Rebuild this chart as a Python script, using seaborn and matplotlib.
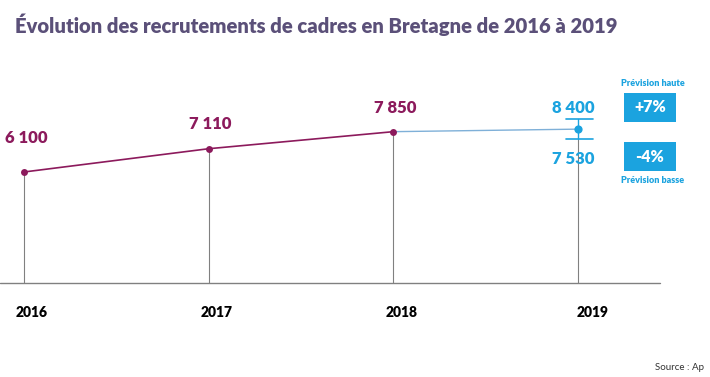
import pandas as pd
import matplotlib.pyplot as plt
import seaborn as sns
from matplotlib.patches import Rectangle

# données
annees = [2016, 2017, 2018]
recrutements = [6100, 7110, 7850]
labels_valeurs = ['6 100', '7 110', '7 850']
annee_prev = 2019
prev_centre = 7960
prev_haute = 8400
prev_basse = 7530
labels_prev = ['8 400', '7 530']
ecarts = ['+7%', '-4%']
titre = 'Évolution des recrutements de cadres en Bretagne de 2016 à 2019'

BORDEAUX = '#8c1a5c'
BLEU = '#1ba3df'
BLEU_LIGNE = '#7fb0d8'
GRIS = '#808080'
POIDS = 'heavy'

sns.set_theme(style='white')
plt.rcParams['font.family'] = ['Lato', 'DejaVu Sans']

fig = plt.figure(figsize=(7.1, 3.77), dpi=100)
ax = fig.add_axes([0, 0, 1, 1])
ax.set_xlim(2015.870, 2019.715)
ax.set_ylim(-2798, 13565)
ax.axis('off')

base = 1282

# ligne de base
ax.plot([2015.870, 2019.445], [base, base], color=GRIS, lw=1)

# traits verticaux
for a, v in zip(annees, recrutements):
    ax.plot([a, a], [base, v], color=GRIS, lw=0.8, zorder=1)
ax.plot([annee_prev, annee_prev], [base, prev_basse], color=GRIS, lw=0.8, zorder=1)

df = pd.DataFrame({'annee': annees, 'valeur': recrutements})
sns.lineplot(data=df, x='annee', y='valeur', ax=ax, color=BORDEAUX, lw=1.2,
             marker='o', markersize=5, markeredgewidth=0, zorder=3)

# prévision 2019
ax.plot([annees[-1], annee_prev], [recrutements[-1], prev_centre], color=BLEU_LIGNE, lw=1, zorder=2)
sns.scatterplot(x=[annee_prev], y=[prev_centre], ax=ax, color=BLEU, s=35, linewidth=0, zorder=4)
ax.plot([annee_prev, annee_prev], [prev_basse, prev_haute], color=BLEU, lw=1, zorder=3)
for v in (prev_haute, prev_basse):
    ax.plot([annee_prev - 0.065, annee_prev + 0.080], [v, v], color=BLEU, lw=1.2, zorder=3)

# étiquettes de valeurs
decal = [34, 25, 24]
for a, v, lab, d in zip(annees, recrutements, labels_valeurs, decal):
    ax.annotate(lab, (a, v), xytext=(2, d), textcoords='offset pixels',
                ha='center', va='center', color=BORDEAUX, fontsize=12, fontweight=POIDS)
ax.annotate(labels_prev[0], (annee_prev, prev_haute), xytext=(-5, 11), textcoords='offset pixels',
            ha='center', va='center', color=BLEU, fontsize=12, fontweight=POIDS)
ax.annotate(labels_prev[1], (annee_prev, prev_basse), xytext=(-5, -20), textcoords='offset pixels',
            ha='center', va='center', color=BLEU, fontsize=12, fontweight=POIDS)

# années
for a in annees + [annee_prev]:
    off = 15 if a == annee_prev else 8
    ax.annotate(str(a), (a, base), xytext=(off, -30), textcoords='offset pixels',
                ha='center', va='center', color='black', fontsize=10, fontweight=POIDS)

# encadrés
def boite(y_px, texte):
    fx0, fy0 = 624 / 710, 1 - (y_px + 29) / 377
    fig.patches.append(Rectangle((fx0, fy0), 52 / 710, 29 / 377, transform=fig.transFigure,
                                 facecolor=BLEU, edgecolor='none'))
    fig.text(650 / 710, 1 - (y_px + 14.5) / 377, texte, ha='center', va='center',
             color='white', fontsize=11.5, fontweight=POIDS)

boite(93, ecarts[0])
boite(142, ecarts[1])
fig.text(653 / 710, 1 - 83 / 377, 'Prévision haute', ha='center', va='center',
         color=BLEU, fontsize=6.5, fontweight=POIDS)
fig.text(653 / 710, 1 - 181 / 377, 'Prévision basse', ha='center', va='center',
         color=BLEU, fontsize=6.5, fontweight=POIDS)

fig.text(15 / 710, 1 - 25 / 377, titre, ha='left', va='center',
         color='#5b5079', fontsize=14.6, fontweight=POIDS)
fig.text(655 / 710, 1 - 368 / 377, 'Source : Ap', ha='left', va='center',
         color='#333333', fontsize=7)

fig.savefig('out.png', dpi=100)
